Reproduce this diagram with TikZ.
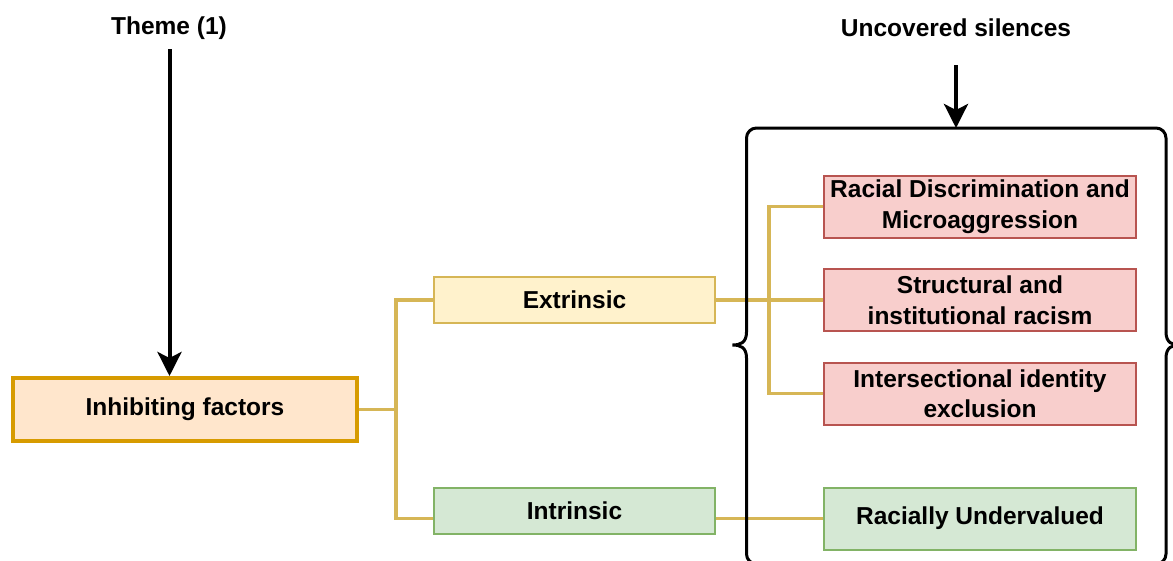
\documentclass[tikz,border=0pt]{standalone}
\usepackage{fontspec}
\setmainfont{Liberation Sans}
\usetikzlibrary{arrows.meta}
\pgfdeclarelayer{connlayer}
\pgfdeclarelayer{bracketlayer}
\pgfsetlayers{connlayer,bracketlayer,main}
\definecolor{inhfill}{HTML}{FFE6CC}
\definecolor{inhdraw}{HTML}{D79B00}
\definecolor{yelfill}{HTML}{FFF2CC}
\definecolor{yeldraw}{HTML}{D6B656}
\definecolor{grnfill}{HTML}{D5E8D4}
\definecolor{grndraw}{HTML}{82B366}
\definecolor{redfill}{HTML}{F8CECC}
\definecolor{reddraw}{HTML}{B85450}
\tikzset{
  lbl/.style={font=\bfseries\fontsize{24.5}{30.5}\selectfont, align=center, inner sep=0pt},
  box/.style={lbl, draw, minimum width=#1},
  inhbox/.style={box=344pt, minimum height=63pt, fill=inhfill, draw=inhdraw, line width=4pt},
  yelbox/.style={box=281pt, minimum height=46pt, fill=yelfill, draw=yeldraw, line width=2.5pt},
  grnbox/.style={box=281pt, minimum height=46pt, fill=grnfill, draw=grndraw, line width=2pt},
  redbox/.style={box=312pt, minimum height=62pt, fill=redfill, draw=reddraw, line width=2pt},
  grnbig/.style={box=312pt, minimum height=62pt, fill=grnfill, draw=grndraw, line width=2pt},
  conn/.style={draw=yeldraw, line width=3.5pt},
  brk/.style={draw=black, line width=3pt},
  arr/.style={draw=black, line width=4pt, -{Stealth[length=24pt,width=24pt,inset=6pt]}}
}
\begin{document}
\begin{tikzpicture}[x=1pt,y=-1pt]
\useasboundingbox (0,0) rectangle (1173,560);
\clip (0,0) rectangle (1173,560);

% boxes
\node[inhbox] (inh) at (185,409.5) {Inhibiting factors};
\node[yelbox] (ext) at (574.5,300) {Extrinsic};
\node[grnbox] (intr) at (574.5,510.5) {Intrinsic};
\node[redbox] (r1) at (980,206.5) {Racial Discrimination and\\Microaggression};
\node[redbox] (r2) at (980,300) {Structural and\\institutional racism};
\node[redbox] (r3) at (980,393.5) {Intersectional identity\\exclusion};
\node[grnbig] (ru) at (980,518.5) {Racially Undervalued};

% connectors
\coordinate (hub) at (396,409.5);
\coordinate (hub2) at (769,300);
\begin{pgfonlayer}{connlayer}
\draw[conn] (inh.east) -- (hub);
\draw[conn] (ext.west) -| (hub) |- (intr.west |- ru.west);
\draw[conn] (ext.east) -- (r2.west);
\draw[conn] (r1.west) -| (hub2) |- (r3.west);
\draw[conn] (intr.east |- ru.west) -- (ru.west);
\end{pgfonlayer}

% bracket
\begin{pgfonlayer}{bracketlayer}
\draw[brk, rounded corners=10pt] (746.5,332) -- (746.5,128) -- (1166,128) -- (1166,332);
\draw[brk, rounded corners=10pt] (746.5,358) -- (746.5,564) -- (1166,564) -- (1166,358);
\draw[brk] (746.5,332) .. controls (746.5,343) and (740,345) .. (732.5,345) .. controls (740,345) and (746.5,347) .. (746.5,358);
\draw[brk] (1166,332) .. controls (1166,343) and (1172.5,345) .. (1180,345) .. controls (1172.5,345) and (1166,347) .. (1166,358);
\end{pgfonlayer}

% titles and arrows
\node[lbl] (theme) at (169,28) {Theme (1)};
\node[lbl] (unc) at (956,28) {Uncovered silences};
\coordinate (thstart) at (169.5,49);
\coordinate (usstart) at (956,65);
\coordinate (brtop) at (956,128);
\draw[arr] (thstart) -- (thstart |- inh.north);
\draw[arr] (usstart) -- (brtop);
\end{tikzpicture}
\end{document}
